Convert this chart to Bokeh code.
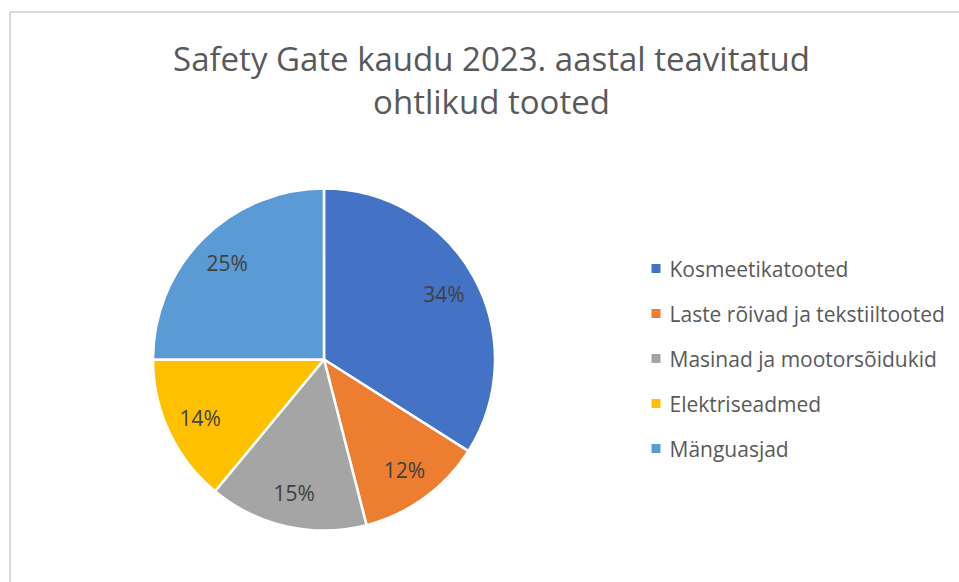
import math
from bokeh.plotting import figure
from bokeh.models import Range1d, ColumnDataSource
from bokeh.core.properties import value
from bokeh.embed import file_html
from bokeh.resources import INLINE

title_lines = ["Safety Gate kaudu 2023. aastal teavitatud", "ohtlikud tooted"]
categories = ["Kosmeetikatooted", "Laste rõivad ja tekstiiltooted",
              "Masinad ja mootorsõidukid", "Elektriseadmed", "Mänguasjad"]
shares = [34, 12, 15, 14, 25]
colors = ["#4472C4", "#ED7D31", "#A5A5A5", "#FFC000", "#5B9BD5"]

W, H = 959, 582
FONT = "Open Sans"

p = figure(width=W, height=H, output_backend="svg", toolbar_location=None,
           x_range=Range1d(0, W), y_range=Range1d(0, H), min_border=0,
           tools="")
p.axis.visible = False
p.grid.visible = False
p.outline_line_color = None
p.background_fill_color = "white"
p.border_fill_color = "white"

def Y(y):
    return H - y

# chart area border (left and top)
p.segment(x0=[9.5, 9.5], y0=[Y(11.5), Y(11.5)], x1=[9.5, W], y1=[Y(H), Y(11.5)],
          line_color="#D9D9D9", line_width=2)

# pie
cx, cy, R = 323.5, 359, 171
total = sum(shares)
starts, ends, lx, ly, labels = [], [], [], [], []
cum = 0
for s in shares:
    a0 = math.pi / 2 - 2 * math.pi * cum / total
    a1 = math.pi / 2 - 2 * math.pi * (cum + s) / total
    mid = (a0 + a1) / 2
    starts.append(a0)
    ends.append(a1)
    lx.append(cx + 0.8 * R * math.cos(mid))
    ly.append(Y(cy) + 0.8 * R * math.sin(mid))
    labels.append(f"{s}%")
    cum += s

src = ColumnDataSource(dict(start=starts, end=ends, color=colors, lx=lx, ly=ly, label=labels))
p.wedge(x=cx, y=Y(cy), radius=R, radius_units="screen", start_angle="start", end_angle="end",
        direction="clock", fill_color="color", line_color="white", line_width=2.5, source=src)
p.text(x="lx", y="ly", text="label", source=src, text_font=value(FONT), text_font_size="21px",
       text_color="#404040", text_align="center", text_baseline="middle")

# title
p.text(x=[491, 491], y=[Y(58), Y(101)], text=title_lines, text_font=value(FONT),
       text_font_size="33px", text_color="#595959", text_align="center", text_baseline="middle")

# legend
leg_y = [Y(268 + 45 * i) for i in range(len(categories))]
p.rect(x=[655.5] * len(categories), y=leg_y, width=9, height=9, width_units="screen",
       height_units="screen", fill_color=colors, line_color=None)
p.text(x=[669] * len(categories), y=leg_y, text=categories, text_font=value(FONT),
       text_font_size="21px", text_color="#595959", text_align="left", text_baseline="middle")

open("out.html", "w").write(file_html(p, INLINE))
